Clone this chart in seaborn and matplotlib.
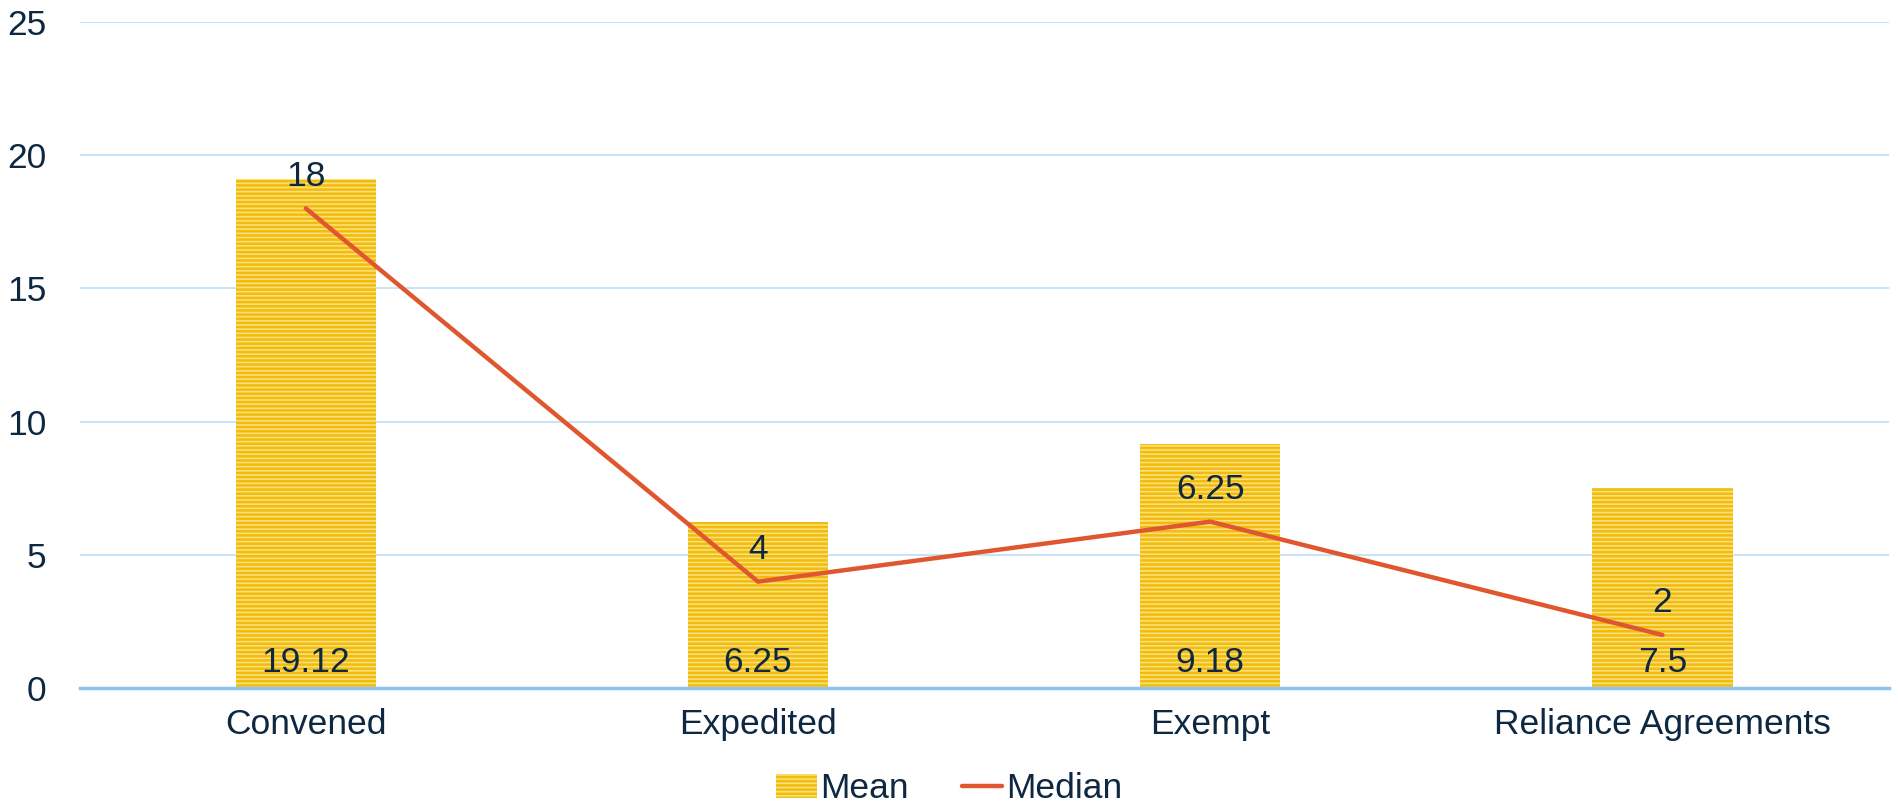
import matplotlib
matplotlib.use('Agg')
import matplotlib.pyplot as plt
import pandas as pd
import seaborn as sns

# данные с картинки
categories = ['Convened', 'Expedited', 'Exempt', 'Reliance Agreements']
mean_vals = [19.12, 6.25, 9.18, 7.5]
median_vals = [18, 4, 6.25, 2]
mean_labels = ['19.12', '6.25', '9.18', '7.5']
median_labels = ['18', '4', '6.25', '2']

df = pd.DataFrame({'category': categories, 'mean': mean_vals, 'median': median_vals})

sns.set_style('white')
plt.rcParams['font.family'] = ['Liberation Sans', 'DejaVu Sans']
plt.rcParams['hatch.linewidth'] = 1.8

text_col = '#0E2841'
fs = 25.5
fig = plt.figure(figsize=(18.98, 8.05), dpi=100)
ax = fig.add_axes([0.042, 0.145, 0.953, 0.828])

sns.barplot(data=df, x='category', y='mean', ax=ax, width=0.31,
            color='#FBDF7A', saturation=1, label='Mean')
for p in ax.patches:
    p.set_hatch('----')
    p.set_edgecolor('#F2BC0C')
    p.set_linewidth(0)

xs = list(range(len(categories)))
ax.plot(xs, df['median'], color='#E0572F', lw=3.2, label='Median')

for x, lab in zip(xs, mean_labels):
    ax.text(x, 0.95, lab, ha='center', va='center', fontsize=fs, color=text_col)
for x, v, lab in zip(xs, median_vals, median_labels):
    ax.text(x, v + 1.2, lab, ha='center', va='center', fontsize=fs, color=text_col)

ax.set_ylim(0, 25)
ax.set_xlim(-0.5, 3.5)
ax.set_yticks([0, 5, 10, 15, 20, 25])
ax.yaxis.grid(True, color='#C5DFF5', lw=1.3)
ax.set_axisbelow(True)
for s in ['top', 'right', 'left']:
    ax.spines[s].set_visible(False)
ax.spines['bottom'].set_color('#8EC3EE')
ax.spines['bottom'].set_linewidth(2.5)
ax.tick_params(axis='both', length=0, labelsize=fs, labelcolor=text_col)
ax.tick_params(axis='y', pad=24)
ax.tick_params(axis='x', pad=14)
ax.set_xlabel('')
ax.set_ylabel('')

handles, labels = ax.get_legend_handles_labels()
if ax.get_legend() is not None:
    ax.get_legend().remove()
order = [labels.index('Mean'), labels.index('Median')]
fig.legend([handles[i] for i in order], [labels[i] for i in order],
           loc='lower center', bbox_to_anchor=(0.5, -0.04), ncol=2, frameon=False,
           fontsize=fs, labelcolor=text_col, handlelength=1.15, handletextpad=0.1,
           columnspacing=1.5)

fig.savefig('out.png', dpi=100)
